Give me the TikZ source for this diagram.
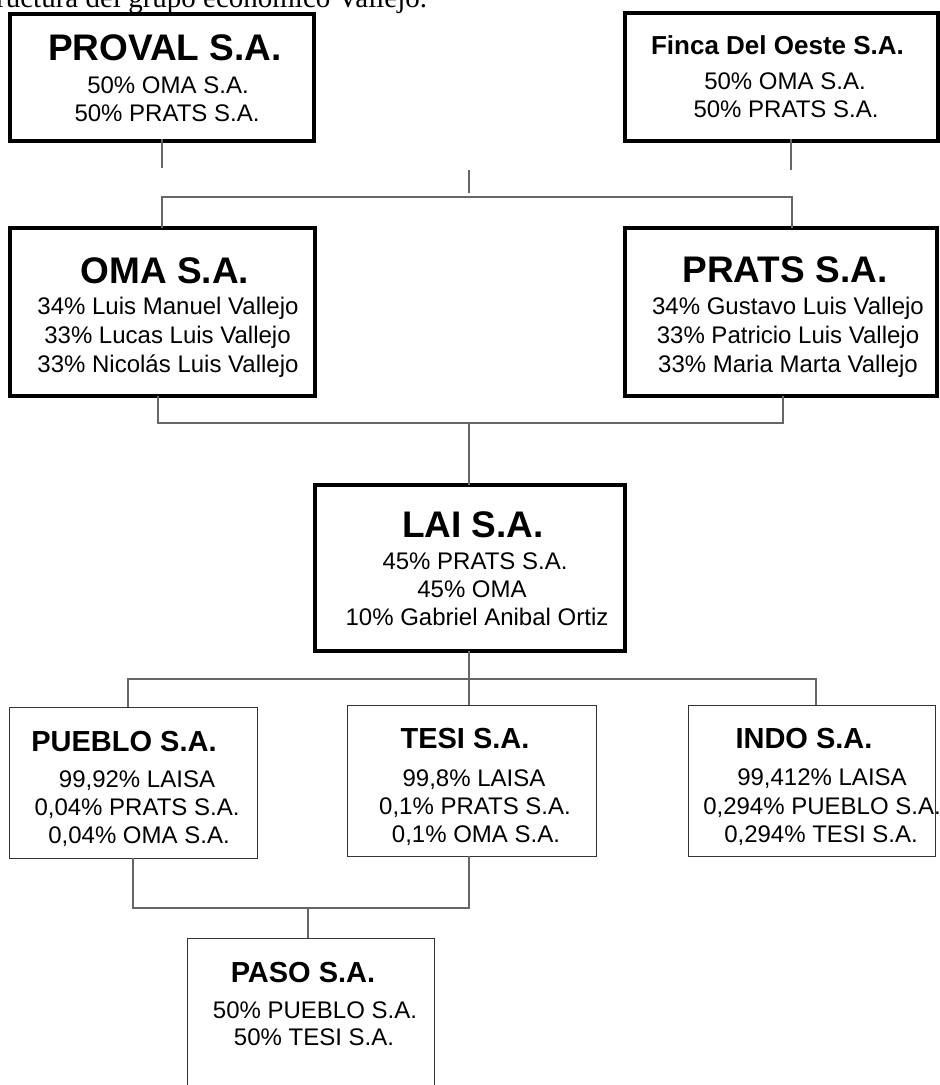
\documentclass[tikz,border=0pt]{standalone}
\usepackage{fontspec}
\setmainfont{Liberation Sans}
\newfontfamily\capfont{Liberation Serif}
\begin{document}
\begin{tikzpicture}[x=1pt,y=-1pt,
  thickbox/.style={draw=black,line width=4pt,rectangle,inner sep=0pt,outer sep=0pt},
  thinbox/.style={draw=black!80,line width=1pt,rectangle,inner sep=0pt,outer sep=0pt},
  conn/.style={draw=black!60,line width=1.1pt},
  bigtitle/.style={anchor=base,inner sep=0pt,font=\fontsize{37}{40}\selectfont\bfseries},
  midtitle/.style={anchor=base,inner sep=0pt,font=\fontsize{29}{32}\selectfont\bfseries},
  smalltitle/.style={anchor=base,inner sep=0pt,font=\fontsize{26}{29}\selectfont\bfseries},
  line/.style={anchor=base,inner sep=0pt,font=\fontsize{24}{28}\selectfont}
]
\useasboundingbox (0,0) rectangle (940,1085);
\clip (0,0) rectangle (940,1085);
\fill[white] (0,0) rectangle (940,1085);

% caption
\node[anchor=base west,inner sep=0pt,font=\capfont\fontsize{29}{32}\selectfont] (cap) at (-4,7) {ructura del grupo económico Vallejo.};

% boxes
\node[thickbox,minimum width=304,minimum height=127] (proval) at (162,77.5) {};
\node[thickbox,minimum width=313,minimum height=128] (finca) at (781.5,77) {};
\node[thickbox,minimum width=305,minimum height=168] (oma) at (162.5,312) {};
\node[thickbox,minimum width=312,minimum height=168] (prats) at (781,312) {};
\node[thickbox,minimum width=310,minimum height=166] (lai) at (470,568) {};
\node[thinbox,minimum width=248,minimum height=151] (pueblo) at (133,782.5) {};
\node[thinbox,minimum width=249,minimum height=151] (tesi) at (471.5,780.5) {};
\node[thinbox,minimum width=247,minimum height=151] (indo) at (811.5,780.5) {};
\node[inner sep=0pt,outer sep=0pt,minimum width=247,minimum height=170] (paso) at (310.5,1023) {};
\draw[draw=black!80,line width=1pt] (paso.south west) -- (paso.north west) -- (paso.north east) -- (paso.south east);

% texts
\node[bigtitle] (provalT) at (165,60) {PROVAL S.A.};
\node[line] (provalA) at (168,93) {50\% OMA S.A.};
\node[line] (provalB) at (167,121) {50\% PRATS S.A.};

\node[smalltitle] (fincaT) at (777.5,54) {Finca Del Oeste S.A.};
\node[line] (fincaA) at (785,89) {50\% OMA S.A.};
\node[line] (fincaB) at (786,117) {50\% PRATS S.A.};

\node[bigtitle] (omaT) at (165,283) {OMA S.A.};
\node[line] (omaA) at (168,314) {34\% Luis Manuel Vallejo};
\node[line] (omaB) at (167.5,343) {33\% Lucas Luis Vallejo};
\node[line] (omaC) at (168,372) {33\% Nicolás Luis Vallejo};

\node[bigtitle] (pratsT) at (785,282) {PRATS S.A.};
\node[line] (pratsA) at (788,314) {34\% Gustavo Luis Vallejo};
\node[line] (pratsB) at (788,343) {33\% Patricio Luis Vallejo};
\node[line] (pratsC) at (788,372) {33\% Maria Marta Vallejo};

\node[bigtitle] (laiT) at (473,537) {LAI S.A.};
\node[line] (laiA) at (475,569) {45\% PRATS S.A.};
\node[line] (laiB) at (472,597) {45\% OMA};
\node[line] (laiC) at (477,625) {10\% Gabriel Anibal Ortiz};

\node[midtitle] (puebloT) at (124,751) {PUEBLO S.A.};
\node[line] (puebloA) at (137,787) {99,92\% LAISA};
\node[line] (puebloB) at (137,815) {0,04\% PRATS S.A.};
\node[line] (puebloC) at (139,843) {0,04\% OMA S.A.};

\node[midtitle] (tesiT) at (465,748) {TESI S.A.};
\node[line] (tesiA) at (474,786) {99,8\% LAISA};
\node[line] (tesiB) at (475,814) {0,1\% PRATS S.A.};
\node[line] (tesiC) at (476,842) {0,1\% OMA S.A.};

\node[midtitle] (indoT) at (804,748) {INDO S.A.};
\node[line] (indoA) at (822,785) {99,412\% LAISA};
\node[line] (indoB) at (822,814) {0,294\% PUEBLO S.A.};
\node[line] (indoC) at (821,842) {0,294\% TESI S.A.};

\node[midtitle] (pasoT) at (303,982) {PASO S.A.};
\node[line] (pasoA) at (315,1018) {50\% PUEBLO S.A.};
\node[line] (pasoB) at (314,1045) {50\% TESI S.A.};

% connectors
\coordinate (j1) at (469,170);
\coordinate (j1b) at (469,193);
\coordinate (h1) at (162,197);
\coordinate (h2) at (792,197);
\draw[conn] (proval.south) ++(0,-2) -- ++(0,29);
\draw[conn] (finca.south -| 791,0) ++(0,-2) -- ++(0,31);
\draw[conn] (j1) -- (j1b);
\draw[conn] (oma.north -| h1) -- (h1) -- (h2) -- (prats.north -| h2);

\coordinate (h3) at (158,423);
\coordinate (h4) at (783,423);
\draw[conn] (oma.south -| h3) -- (h3) -- (h4) -- (prats.south -| h4);
\draw[conn] (469,423) -- (lai.north -| 469,0);

\coordinate (h5) at (128,679);
\coordinate (h6) at (816,679);
\draw[conn] (lai.south -| 469,0) -- (tesi.north -| 469,0);
\draw[conn] (pueblo.north -| h5) -- (h5) -- (h6) -- (indo.north -| h6);

\coordinate (h7) at (133,908);
\coordinate (h8) at (469,908);
\draw[conn] (pueblo.south -| h7) -- (h7) -- (h8) -- (tesi.south -| h8);
\draw[conn] (308,908) -- (paso.north -| 308,0);
\end{tikzpicture}
\end{document}
